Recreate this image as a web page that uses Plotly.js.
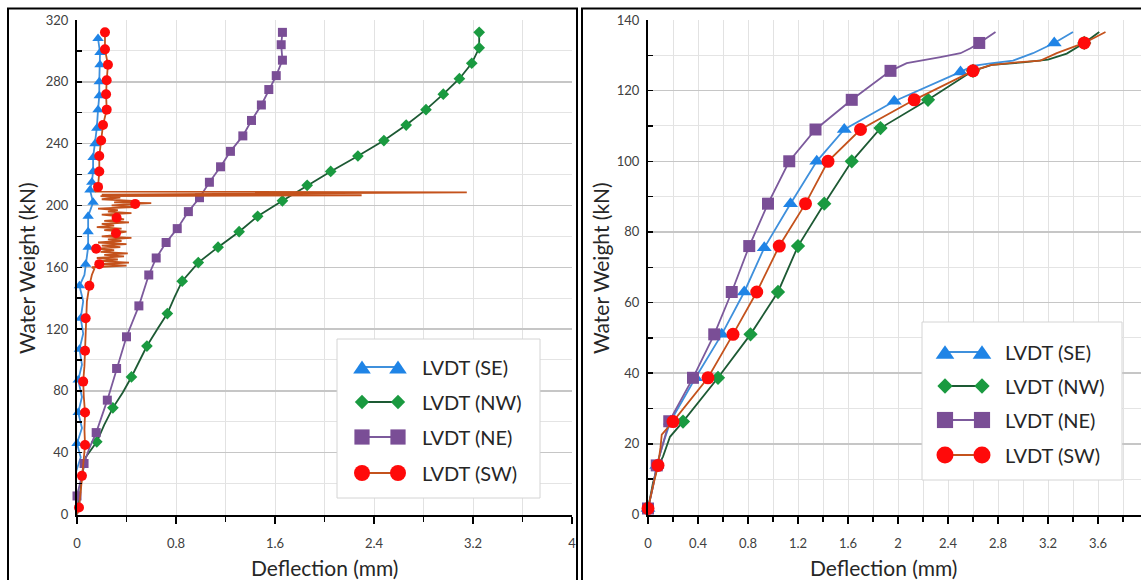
<!DOCTYPE html>
<html><head><meta charset="utf-8">
<script src="https://cdn.plot.ly/plotly-3.0.1.min.js"></script>
<style>html,body{margin:0;padding:0;overflow:hidden;background:#fff}#chart{width:1160px;height:580px}</style>
</head><body><div id="chart"></div>
<script>
// ---------- DATA (deflection mm, water weight kN) ----------
const seriesNames = ['LVDT (SE)', 'LVDT (NW)', 'LVDT (NE)', 'LVDT (SW)'];

// Left panel
const L_SE_y = [0,8,17,27,37,46,56,66,76,87,97,107,117,127,138,148,155,162,173,183,193,202,210,215,222,231,240,250,262,271,280,291,299,308];
const L_SE_x = [0,0.02,-0.01,-0.01,0.03,0.0,0.04,0.01,0.04,0.01,0.04,0.02,0.05,0.03,0.05,0.02,0.06,0.07,0.09,0.09,0.09,0.13,0.105,0.12,0.13,0.13,0.145,0.16,0.17,0.18,0.18,0.186,0.186,0.17];
const L_SE_marks = [27,46,66,87,107,127,148,162,173,183,193,202,210,215,222,231,240,250,262,271,280,291,299,308];

const L_NW_y = [0,10,25,37,47,58,69,79,89,99,109,120,130,141,151,163,173,183,193,203,213,222,232,242,252,262,272,282,292,302,312];
const L_NW_x = [0,0.02,0.04,0.07,0.16,0.22,0.29,0.37,0.44,0.50,0.565,0.65,0.73,0.79,0.85,0.98,1.14,1.31,1.46,1.66,1.86,2.05,2.27,2.48,2.66,2.82,2.96,3.09,3.19,3.25,3.25];
const L_NW_marks = [47,69,89,109,130,151,163,173,183,193,203,213,222,232,242,252,262,272,282,292,302,312];

const L_NE_y = [0,12,22,33,43,53,74,94.5,115,135,155,166,176,185,196,205,215,225,235,245,255,265,275,284,294,304,312];
const L_NE_x = [0,0.0,0.03,0.057,0.1,0.155,0.245,0.32,0.40,0.50,0.58,0.64,0.72,0.81,0.90,0.99,1.07,1.16,1.24,1.34,1.41,1.49,1.55,1.61,1.66,1.65,1.66];
const L_NE_marks = [12,33,53,74,94.5,115,135,155,166,176,185,196,205,215,225,235,245,255,265,275,284,294,304,312];

const L_SW_y = [0,4.5,15,25,35,45,55,66,76,86,96,106,117,127,138,148,155,159,160,161,162,163,164,165,166,167,168,169,170,171,172,173,174,175,176,177,178,179,180,181,182,183,184,185,186,187,188,189,190,191,192,193,194,195,196,197,198,199,200,201,201.5,202,203,204,205,206,206.6,207,208.5,209,210,212,222,232,242,252,262,272,281,291,301,312];
const L_SW_x = [0,0.016,0.03,0.04,0.05,0.065,0.06,0.065,0.055,0.05,0.06,0.065,0.07,0.07,0.08,0.1,0.12,0.14,0.12,0.40,0.18,0.42,0.2,0.33,0.16,0.38,0.22,0.41,0.19,0.30,0.155,0.35,0.2,0.40,0.17,0.36,0.25,0.44,0.2,0.33,0.315,0.4,0.22,0.36,0.16,0.3,0.2,0.42,0.22,0.38,0.32,0.34,0.2,0.44,0.25,0.33,0.17,0.46,0.28,0.47,0.6,0.3,0.45,0.2,0.35,0.19,2.3,0.2,3.15,0.15,0.14,0.17,0.18,0.18,0.195,0.21,0.24,0.235,0.24,0.25,0.226,0.226];
const L_SW_marks = [4.5,25,45,66,86,106,127,148,162,172,182,192,201,212,222,232,242,252,262,272,281,291,301,312];

// Right panel
const R_SE_y = [0,1.7,8,13.9,20,26.4,38.7,51,63,75.5,88,100,109,117,125.3,127,127.7,128.5,130.6,133.5,136.6];
const R_SE_x = [0,0.0,0.04,0.07,0.12,0.18,0.38,0.59,0.77,0.93,1.14,1.35,1.57,1.97,2.5,2.6,2.74,2.92,3.08,3.25,3.4];
const R_SE_marks = [1.7,13.9,26.4,38.7,51,63,75.5,88,100,109,117,125.3,133.5];

const R_NW_y = [0,1.5,9,13.6,16.4,19.3,22,26.3,38.7,51,63,76,88,100,109.4,117.4,125.6,127.3,128,128.8,130.5,133.5,136.6];
const R_NW_x = [0,0.0,0.04,0.08,0.12,0.15,0.176,0.28,0.56,0.82,1.04,1.2,1.41,1.63,1.86,2.24,2.6,2.75,3.0,3.2,3.35,3.49,3.61];
const R_NW_marks = [26.3,38.7,51,63,76,88,100,109.4,117.4,125.6,133.5];

const R_NE_y = [0,1.7,8,13.9,20,26.4,38.7,51,63,76,88,100,109,117.4,125.6,127.8,129.5,130.6,132,133.5,136.6];
const R_NE_x = [0,0.0,0.04,0.07,0.12,0.17,0.36,0.53,0.67,0.81,0.96,1.13,1.34,1.63,1.94,2.07,2.34,2.5,2.58,2.65,2.78];
const R_NE_marks = [1.7,13.9,26.4,38.7,51,63,76,88,100,109,117.4,125.6,133.5];

const R_SW_y = [0,1.7,8,13.9,19,22.6,26.3,38.7,51,63,76,88,100,109,117.4,125.6,127.2,128,128.5,130.6,133.5,136.6];
const R_SW_x = [0,0.0,0.04,0.08,0.1,0.11,0.2,0.48,0.68,0.87,1.05,1.26,1.44,1.70,2.13,2.60,2.74,2.95,3.14,3.27,3.49,3.66];
const R_SW_marks = [1.7,13.9,26.3,38.7,51,63,76,88,100,109,117.4,125.6,133.5];

// ---------- STYLE ----------
const W = 1160, H = 580;
const FONT = 'Lato, "Open Sans", sans-serif';
const styles = [
  {sym:'triangle-up', mc:'#1f84e6', lc:'#3f90dc', sL:10, sR:13},
  {sym:'diamond',     mc:'#1a9a40', lc:'#1d5a34', sL:9,  sR:11},
  {sym:'square',      mc:'#7a4e96', lc:'#7c5a9c', sL:9,  sR:12},
  {sym:'circle',      mc:'#ff0a0a', lc:'#c4521c', sL:10, sR:13}
];

function mk(x, y, marks, st, size, xa, ya, name) {
  return {
    type:'scatter', mode:'lines+markers', name:name, x:x, y:y, xaxis:xa, yaxis:ya,
    line:{color:st.lc, width:1.8},
    marker:{symbol:st.sym, color:st.mc, opacity:1, line:{width:0}, size:y.map(v => marks.includes(v) ? size : 0)},
    cliponaxis:false, showlegend:false, hoverinfo:'x+y+name'
  };
}

const leftSets = [[L_SE_x,L_SE_y,L_SE_marks],[L_NW_x,L_NW_y,L_NW_marks],[L_NE_x,L_NE_y,L_NE_marks],[L_SW_x,L_SW_y,L_SW_marks]];
const rightSets = [[R_SE_x,R_SE_y,R_SE_marks],[R_NW_x,R_NW_y,R_NW_marks],[R_NE_x,R_NE_y,R_NE_marks],[R_SW_x,R_SW_y,R_SW_marks]];
const traces = [];
leftSets.forEach((s,i) => traces.push(mk(s[0], s[1], s[2], styles[i], styles[i].sL, 'x', 'y', seriesNames[i])));
rightSets.forEach((s,i) => traces.push(mk(s[0], s[1], s[2], styles[i], styles[i].sR, 'x2', 'y2', seriesNames[i])));

const px = v => v / W, py = v => 1 - v / H;
const tickfont = {family:FONT, size:13, color:'#404040'};

function xax(domain, dtick, minor) {
  return {domain:domain, range:[0,4], dtick:dtick, tick0:0, showgrid:true, gridcolor:'#e2e2e2', gridwidth:1,
    minor:{dtick:minor, showgrid:true, gridcolor:'#e2e2e2', gridwidth:1, ticks:'outside', ticklen:5, tickcolor:'#000', tickwidth:1.5},
    ticks:'outside', ticklen:7, tickwidth:1.5, tickcolor:'#000', showline:true, linecolor:'#000', linewidth:2,
    zeroline:false, tickfont:tickfont, ticklabelstandoff:9, fixedrange:true};
}
function yax(domain, range, dtick, minor, anchor) {
  return {domain:domain, range:range, dtick:dtick, tick0:0, anchor:anchor, showgrid:true, gridcolor:'#c6c6c6', gridwidth:1.5,
    minor:{dtick:minor, showgrid:true, gridcolor:'#e4e4e4', gridwidth:1, ticks:'inside', ticklen:5, tickcolor:'#000', tickwidth:1.5},
    ticks:'inside', ticklen:5, tickwidth:1.5, tickcolor:'#000', showline:true, linecolor:'#000', linewidth:2,
    zeroline:false, tickfont:tickfont, ticklabelstandoff:4, fixedrange:true};
}
const ydom = [(H - 514.5) / H, (H - 20) / H];

// ---------- legends (drawn as shapes + text) ----------
const shapes = [];
const annotations = [];
function markerShape(st, cx, cy, s) {
  const h = s / 2;
  if (st.sym === 'circle') return {type:'circle', xref:'paper', yref:'paper', x0:px(cx-h), x1:px(cx+h), y0:py(cy+h), y1:py(cy-h), fillcolor:st.mc, line:{width:0}};
  if (st.sym === 'square') return {type:'rect', xref:'paper', yref:'paper', x0:px(cx-h*0.95), x1:px(cx+h*0.95), y0:py(cy+h*0.95), y1:py(cy-h*0.95), fillcolor:st.mc, line:{width:0}};
  let pts;
  if (st.sym === 'triangle-up') pts = [[cx, cy - h*0.8], [cx + h*1.1, cy + h*0.8], [cx - h*1.1, cy + h*0.8]];
  else pts = [[cx, cy - h*0.9], [cx + h*0.9, cy], [cx, cy + h*0.9], [cx - h*0.9, cy]];
  const path = 'M ' + pts.map(p => px(p[0]) + ',' + py(p[1])).join(' L ') + ' Z';
  return {type:'path', xref:'paper', yref:'paper', path:path, fillcolor:st.mc, line:{width:0}};
}
function legend(box, rows, m1, m2, tx, size, fsize) {
  shapes.push({type:'rect', xref:'paper', yref:'paper', x0:px(box[0]), x1:px(box[2]), y0:py(box[3]), y1:py(box[1]), fillcolor:'#fff', line:{color:'#d4d4d4', width:1}, layer:'above'});
  rows.forEach((ry, i) => {
    const st = styles[i];
    shapes.push({type:'line', xref:'paper', yref:'paper', x0:px(m1), x1:px(m2), y0:py(ry), y1:py(ry), line:{color:st.lc, width:2}});
    shapes.push(markerShape(st, m1, ry, size));
    shapes.push(markerShape(st, m2, ry, size));
    annotations.push({xref:'paper', yref:'paper', x:px(tx), y:py(ry), xanchor:'left', yanchor:'middle', showarrow:false,
      text:seriesNames[i], font:{family:FONT, size:fsize, color:'#262626'}});
  });
}
legend([337,339,540,498], [367,402,437,473], 362, 398, 420, 16, 20);
legend([922,322,1122,480], [352,386,420,455], 945, 982, 1003, 17, 20);

// frames
shapes.push({type:'rect', xref:'paper', yref:'paper', x0:px(8), x1:px(577), y0:py(600), y1:py(8.5), line:{color:'#000', width:2}, layer:'above'});
shapes.push({type:'rect', xref:'paper', yref:'paper', x0:px(582), x1:px(1170), y0:py(600), y1:py(8.5), line:{color:'#000', width:2}, layer:'above'});

// axis titles
const tfont = {family:FONT, size:21, color:'#262626'};
annotations.push({xref:'paper', yref:'paper', x:px(324), y:py(567), xanchor:'center', yanchor:'middle', showarrow:false, text:'Deflection (mm)', font:tfont});
annotations.push({xref:'paper', yref:'paper', x:px(883), y:py(567), xanchor:'center', yanchor:'middle', showarrow:false, text:'Deflection (mm)', font:tfont});
annotations.push({xref:'paper', yref:'paper', x:px(26), y:py(268), xanchor:'center', yanchor:'middle', showarrow:false, textangle:-90, text:'Water Weight (kN)', font:tfont});
annotations.push({xref:'paper', yref:'paper', x:px(600), y:py(268), xanchor:'center', yanchor:'middle', showarrow:false, textangle:-90, text:'Water Weight (kN)', font:tfont});

const layout = {
  width:W, height:H, margin:{l:0, r:0, t:0, b:0},
  paper_bgcolor:'#fff', plot_bgcolor:'#fff', showlegend:false,
  font:{family:FONT},
  xaxis: xax([77/W, 572/W], 0.8, 0.4),
  yaxis: yax(ydom, [0,320], 40, 20, 'x'),
  xaxis2: Object.assign(xax([648/W, 1148/W], 0.4, 0.2), {anchor:'y2'}),
  yaxis2: yax(ydom, [0,140], 20, 10, 'x2'),
  shapes: shapes, annotations: annotations
};
layout.xaxis.anchor = 'y';

Plotly.newPlot('chart', traces, layout, {displayModeBar:false, staticPlot:true});
</script></body></html>
